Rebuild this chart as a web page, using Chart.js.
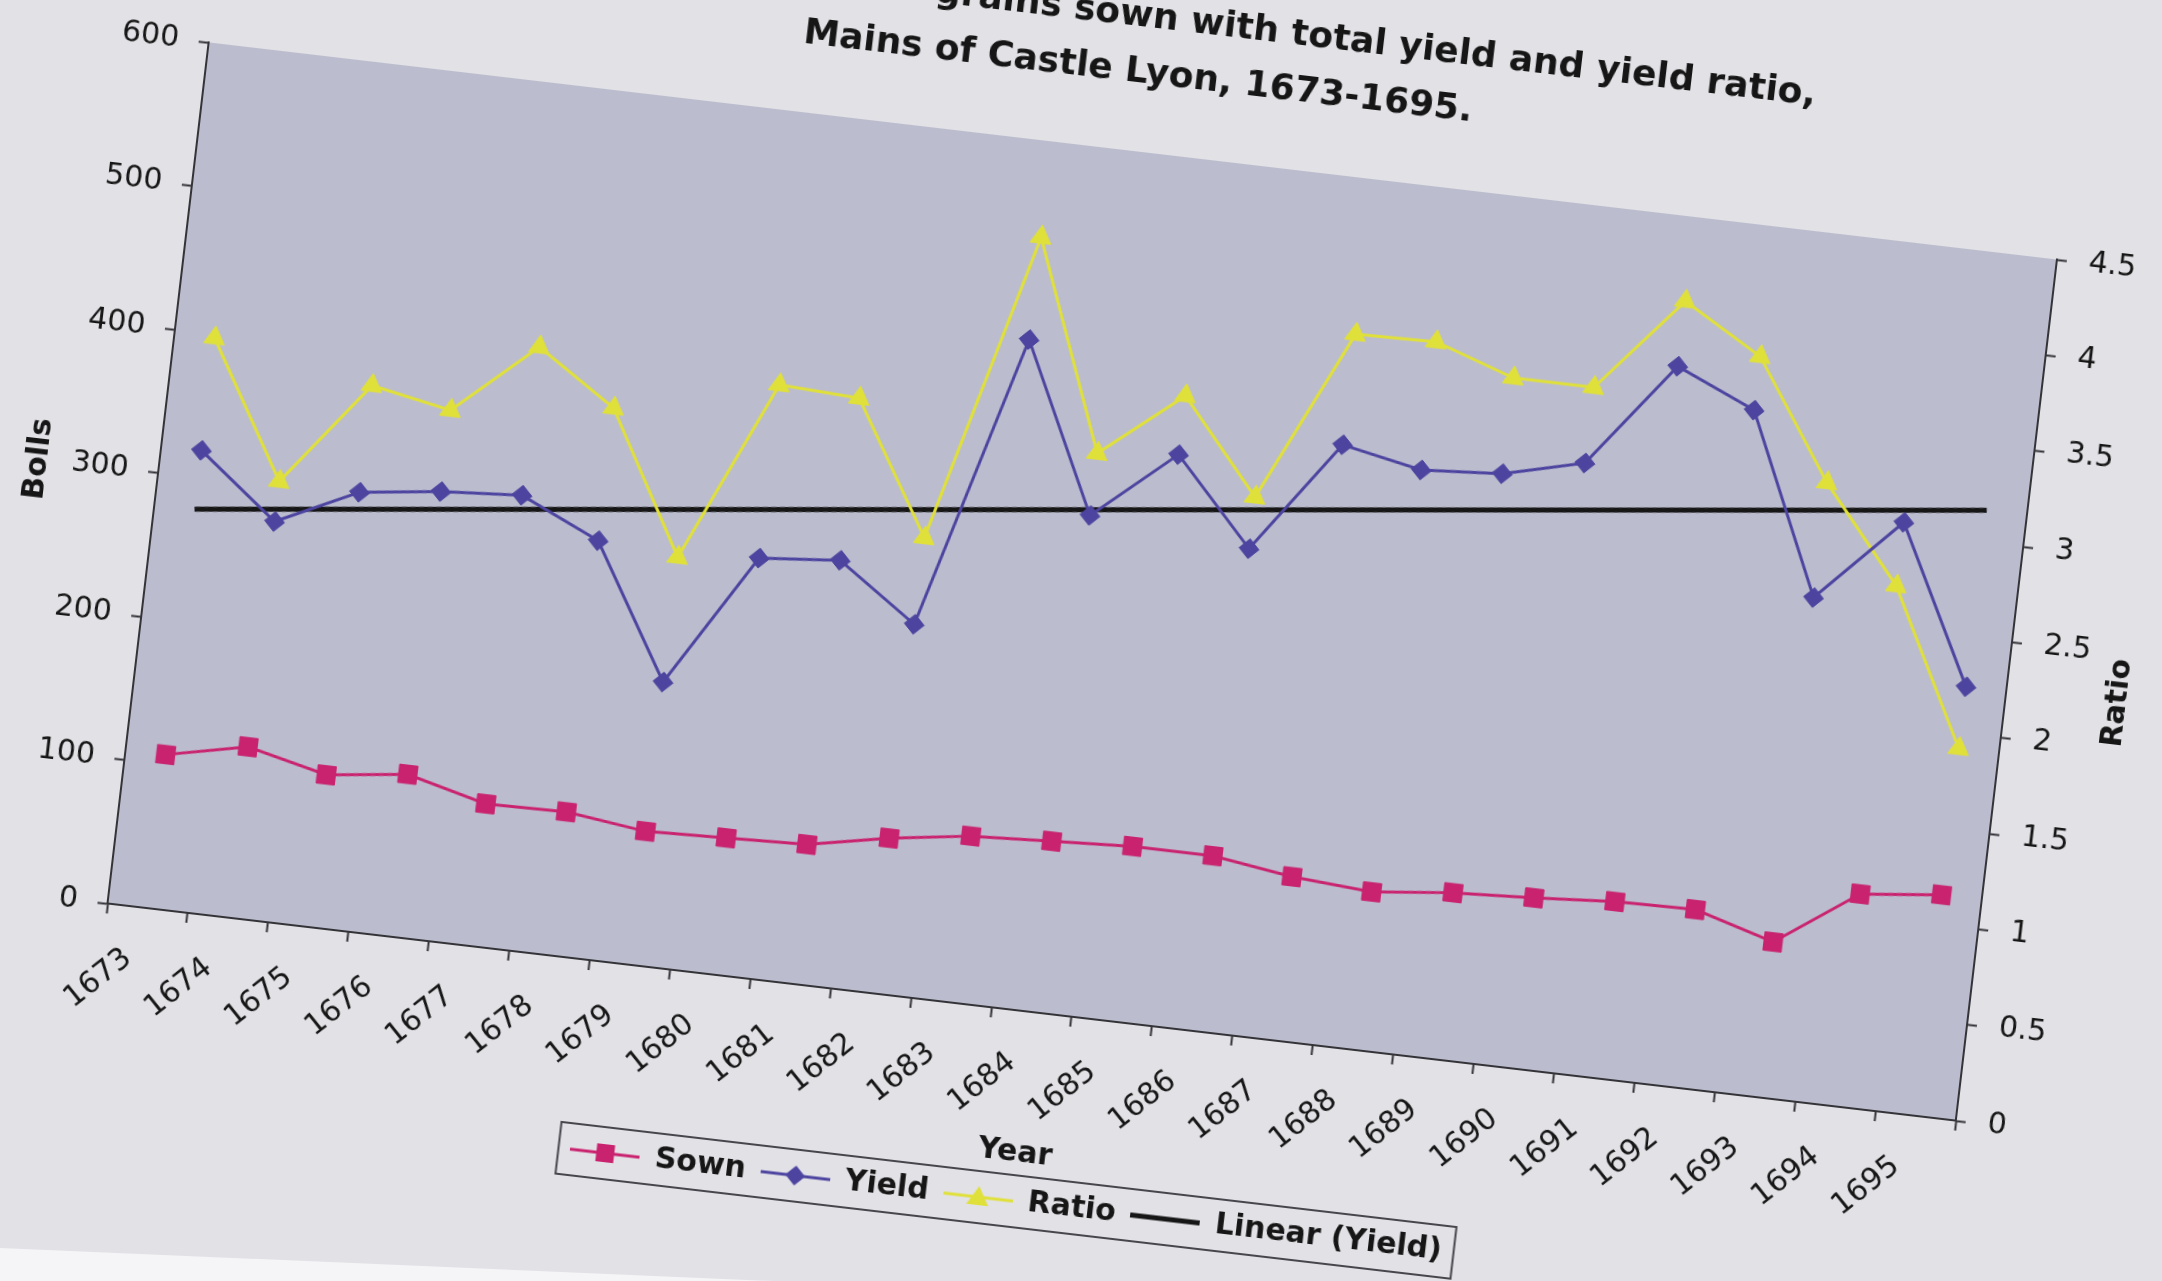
<!DOCTYPE html>
<html>
<head>
<meta charset="utf-8">
<title>Grains sown with total yield and yield ratio, Mains of Castle Lyon, 1673-1695</title>
<script src="https://cdn.jsdelivr.net/npm/chart.js@4.4.1/dist/chart.umd.min.js"></script>
<style>
  html, body { margin: 0; padding: 0; width: 2162px; height: 1281px; overflow: hidden; background: #e2e1e6; }
  /* the printed page is photographed slightly turned, so the whole chart is turned too */
  #wrap { position: absolute; left: -100px; top: -100px; width: 2362px; height: 1481px;
          transform-origin: 1182.5px 679px; transform: rotate(6.7deg); }
  #edge { position: absolute; left: 0; top: 0; width: 2162px; height: 1281px; background: #f5f5f7;
          clip-path: polygon(0 1248px, 772px 1281px, 0 1281px); }
</style>
</head>
<body>
<div id="edge"></div>
<div id="wrap"><canvas id="graficoDatos" width="2362" height="1481"></canvas></div>
<script>
// Years on the category axis
const years = ['1673', '1674', '1675', '1676', '1677', '1678', '1679', '1680', '1681', '1682', '1683', '1684',
               '1685', '1686', '1687', '1688', '1689', '1690', '1691', '1692', '1693', '1694', '1695'];

// Bolls sown and total yield (left axis)
const sown = [107, 119, 106, 113, 99, 100, 93, 95, 97, 108, 116, 119, 122, 122, 114, 110, 116, 119, 123, 124, 108, 148, 154];
const yieldBolls = [319, 276, 303, 310, 314, 289, 197, 290, 295, 257, 462, 346, 395, 336, 415, 404, 408, 422, 496, 472, 348, 407, 299];

// Yield ratio (right axis)
const ratio = [2.98, 2.28, 2.83, 2.75, 3.13, 2.86, 2.13, 3.08, 3.06, 2.38, 4.00, 2.92, 3.27, 2.79, 3.69, 3.70, 3.56, 3.56, 4.06, 3.82, 3.21, 2.72, 1.92];

// Linear (Yield) trend line, read at the first and last year
const yieldTrend = [278, null, null, null, null, null, null, null, null, null, null, null,
                    null, null, null, null, null, null, null, null, null, null, 422];

// Tick labels
const bollsTicks = [0, 100, 200, 300, 400, 500, 600];
const ratioTicks = [0, 0.5, 1, 1.5, 2, 2.5, 3, 3.5, 4, 4.5];

const titleLine1 = 'grains sown with total yield and yield ratio,';
const titleLine2 = 'Mains of Castle Lyon, 1673-1695.';

const colSown = '#c9236f';
const colYield = '#4d44a0';
const colRatio = '#e0e03a';
const colTrend = '#161616';
const colText = '#161616';
const colAxis = '#333338';
const colPlot = '#bbbdce';
const fontName = '"DejaVu Sans", Verdana, sans-serif';

// Small line + marker pictures for the legend, like the spreadsheet legend
function legendSymbol(color, shape, width) {
    const c = document.createElement('canvas');
    c.width = 70;
    c.height = 30;
    const g = c.getContext('2d');
    g.strokeStyle = color;
    g.fillStyle = color;
    g.lineWidth = width;
    g.beginPath();
    g.moveTo(0, 15);
    g.lineTo(70, 15);
    g.stroke();
    g.beginPath();
    if (shape === 'rect') {
        g.rect(26, 6, 18, 18);
    } else if (shape === 'diamond') {
        g.moveTo(35, 5); g.lineTo(45, 15); g.lineTo(35, 25); g.lineTo(25, 15); g.closePath();
    } else if (shape === 'triangle') {
        g.moveTo(35, 4); g.lineTo(46, 23); g.lineTo(24, 23); g.closePath();
    }
    g.fill();
    return c;
}
const legendSymbols = [
    legendSymbol(colSown, 'rect', 3),
    legendSymbol(colYield, 'diamond', 3),
    legendSymbol(colRatio, 'triangle', 3),
    legendSymbol(colTrend, 'none', 5)
];

// Plot background, title, right axis title and legend frame
const chartDecor = {
    id: 'chartDecor',
    beforeDraw(chart) {
        const { ctx, chartArea: a } = chart;
        ctx.save();
        ctx.fillStyle = colPlot;
        ctx.fillRect(a.left, a.top, a.right - a.left, a.bottom - a.top);
        ctx.restore();
    },
    afterDraw(chart) {
        const { ctx, chartArea: a } = chart;
        const cx = (a.left + a.right) / 2;
        ctx.save();
        ctx.fillStyle = colText;
        ctx.font = 'bold 36px ' + fontName;
        ctx.textBaseline = 'middle';
        ctx.textAlign = 'right';
        ctx.fillText(titleLine1, cx + 672, a.top - 134);
        ctx.textAlign = 'center';
        ctx.fillText(titleLine2, cx - 4, a.top - 78);

        // "Ratio" reads bottom to top, like "Bolls"
        const r = chart.scales.y1;
        ctx.font = 'bold 30px ' + fontName;
        ctx.translate(r.right - 23, (a.top + a.bottom) / 2);
        ctx.rotate(-Math.PI / 2);
        ctx.fillText('Ratio', 0, 0);
        ctx.restore();

        // frame round the legend items
        const boxes = chart.legend.legendHitBoxes;
        if (boxes && boxes.length) {
            const left = Math.min(...boxes.map(b => b.left)) - 12;
            const right = Math.max(...boxes.map(b => b.left + b.width)) + 12;
            const top = boxes[0].top - 11;
            const bottom = boxes[0].top + boxes[0].height + 11;
            ctx.save();
            ctx.strokeStyle = '#46464c';
            ctx.lineWidth = 2;
            ctx.strokeRect(left, top, right - left, bottom - top);
            ctx.restore();
        }
    }
};

const ctx = document.getElementById('graficoDatos').getContext('2d');
const myChart = new Chart(ctx, {
    type: 'line',
    data: {
        labels: years,
        datasets: [{
            label: 'Sown',
            data: sown,
            yAxisID: 'y',
            borderColor: colSown,
            backgroundColor: colSown,
            borderWidth: 3,
            pointStyle: 'rect',
            pointRadius: 13,
            pointBorderWidth: 1
        },
        {
            label: 'Yield',
            data: yieldBolls,
            yAxisID: 'y',
            borderColor: colYield,
            backgroundColor: colYield,
            borderWidth: 3,
            pointStyle: 'rectRot',
            pointRadius: 10,
            pointBorderWidth: 1
        },
        {
            label: 'Ratio',
            data: ratio,
            yAxisID: 'y1',
            borderColor: colRatio,
            backgroundColor: colRatio,
            borderWidth: 3,
            pointStyle: 'triangle',
            pointRadius: 12,
            pointBorderWidth: 1
        },
        {
            label: 'Linear (Yield)',
            data: yieldTrend,
            yAxisID: 'y',
            borderColor: colTrend,
            backgroundColor: colTrend,
            borderWidth: 5,
            pointRadius: 0,
            spanGaps: true
        }]
    },
    options: {
        responsive: false,
        animation: false,
        devicePixelRatio: 1,
        layout: { padding: { top: 248, left: 110, right: 114, bottom: 151 } },
        elements: { line: { tension: 0 } },
        plugins: {
            title: { display: false },
            tooltip: { enabled: false },
            legend: {
                position: 'bottom',
                labels: {
                    usePointStyle: true,
                    pointStyleWidth: 70,
                    padding: 15,
                    color: colText,
                    font: { family: fontName, size: 30, weight: 'bold' },
                    generateLabels: (chart) => {
                        const items = Chart.defaults.plugins.legend.labels.generateLabels(chart);
                        items.forEach((it, i) => { it.pointStyle = legendSymbols[i]; });
                        return items;
                    }
                }
            }
        },
        scales: {
            x: {
                type: 'category',
                offset: true,
                grid: { offset: true, drawOnChartArea: false, tickLength: 10, tickColor: colAxis, tickWidth: 2 },
                border: { display: true, color: colAxis, width: 2 },
                ticks: {
                    autoSkip: false, maxRotation: 45, minRotation: 45, padding: 26, labelOffset: -14,
                    color: colText, font: { family: fontName, size: 30 }
                },
                title: {
                    display: true, text: 'Year', color: colText,
                    font: { family: fontName, size: 30, weight: 'bold' },
                    padding: { top: 4, bottom: 0 }
                },
                afterFit: (scale) => { scale.height = 160; }
            },
            y: {
                position: 'left',
                min: 0,
                max: 600,
                afterBuildTicks: (scale) => { scale.ticks = bollsTicks.map(v => ({ value: v })); },
                grid: { drawOnChartArea: false, tickLength: 10, tickColor: colAxis, tickWidth: 2 },
                border: { display: true, color: colAxis, width: 2 },
                ticks: {
                    padding: 20, color: colText, font: { family: fontName, size: 30 },
                    callback: (v) => String(v)
                },
                title: {
                    display: true, text: 'Bolls', color: colText,
                    font: { family: fontName, size: 30, weight: 'bold' },
                    padding: { top: 4, bottom: 4 }
                },
                afterFit: (scale) => { scale.width = 142; }
            },
            y1: {
                position: 'right',
                min: 0,
                max: 4.5,
                afterBuildTicks: (scale) => { scale.ticks = ratioTicks.map(v => ({ value: v })); },
                grid: { drawOnChartArea: false, tickLength: 10, tickColor: colAxis, tickWidth: 2 },
                border: { display: true, color: colAxis, width: 2 },
                ticks: {
                    padding: 22, color: colText, font: { family: fontName, size: 30 },
                    callback: (v) => String(v)
                },
                title: { display: false },
                afterFit: (scale) => { scale.width = 135; }
            }
        }
    },
    plugins: [chartDecor]
});
</script>
</body>
</html>
